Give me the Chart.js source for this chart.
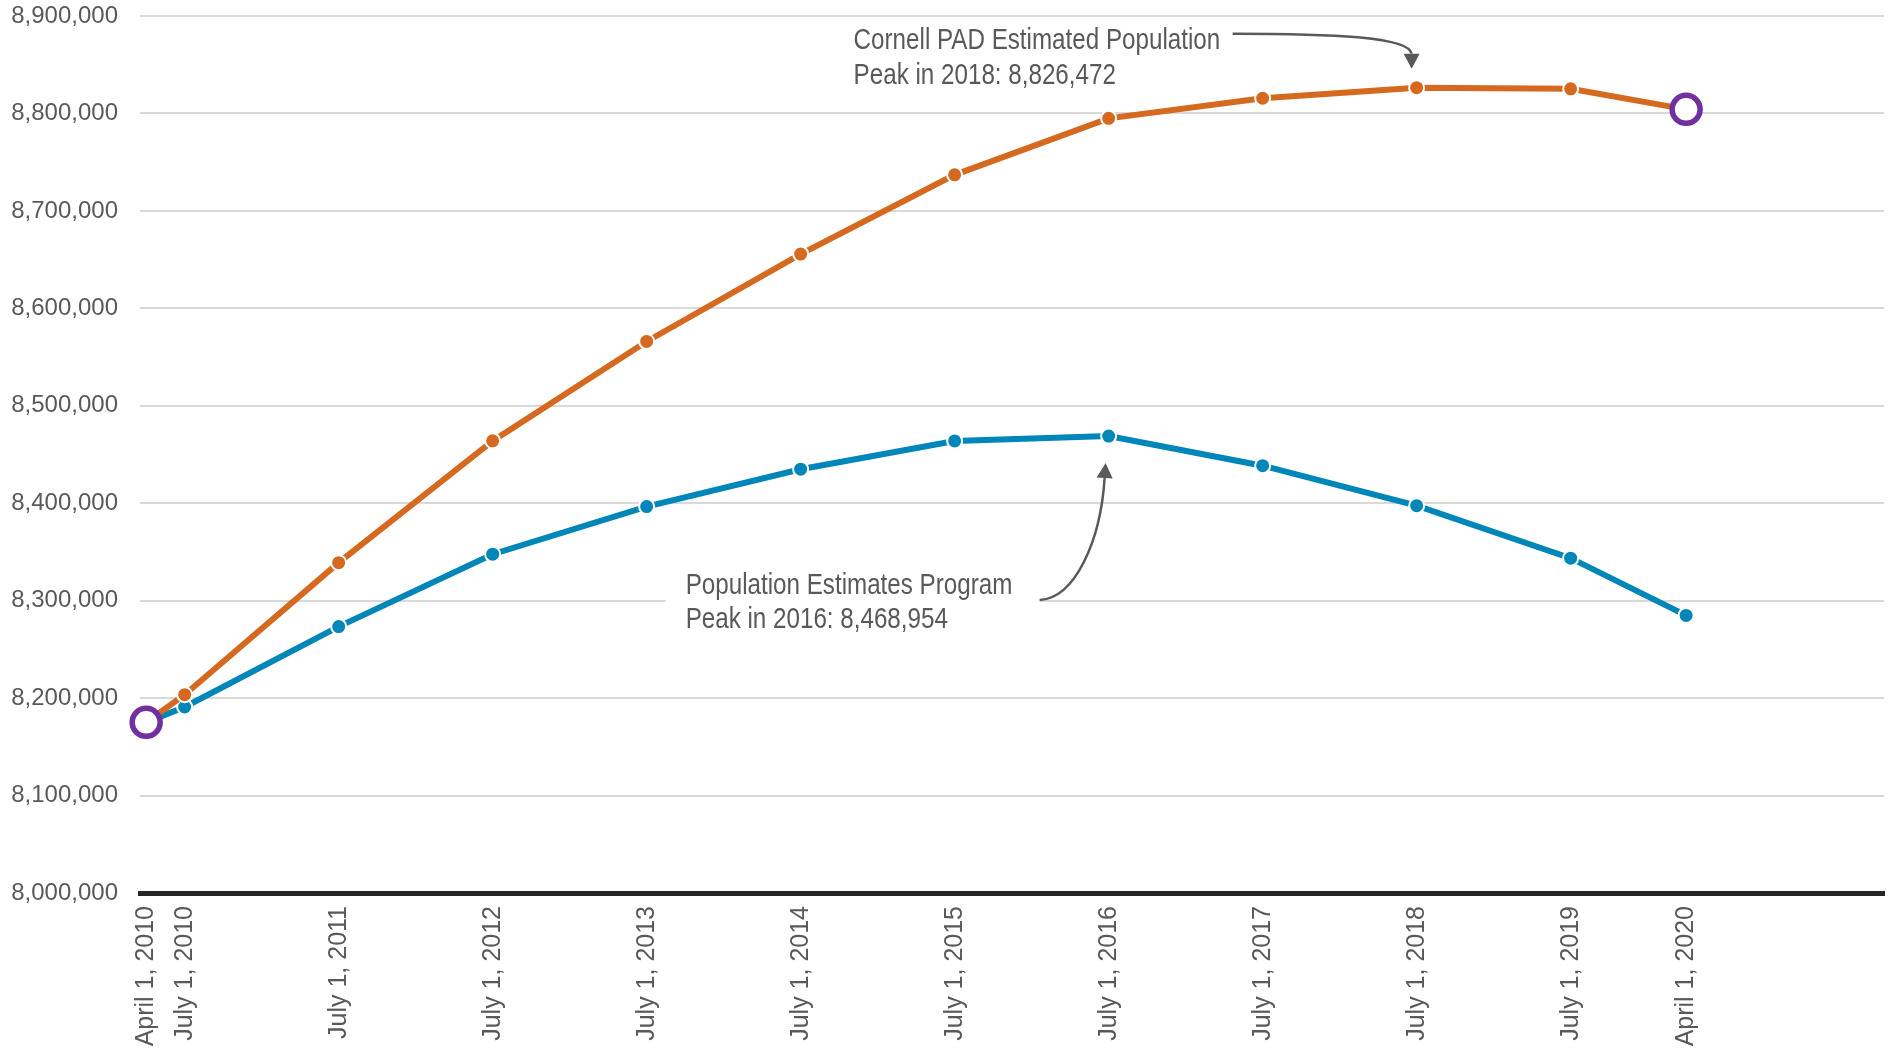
<!DOCTYPE html>
<html>
<head>
<meta charset="utf-8">
<title>NYC population: Cornell PAD vs Population Estimates Program</title>
<script src="https://cdn.jsdelivr.net/npm/chart.js@4.4.1/dist/chart.umd.min.js"></script>
<style>
  html, body { margin: 0; padding: 0; background: #fff; overflow: hidden; }
  #wrap { width: 1888px; height: 1048px; }
  canvas { display: block; }
</style>
</head>
<body>
<div id="wrap"><canvas id="chart" width="1888" height="1048"></canvas></div>
<script>
// x positions as decimal years (April 1 = .25, July 1 = .5)
const dates = [2010.25, 2010.5, 2011.5, 2012.5, 2013.5, 2014.5, 2015.5, 2016.5, 2017.5, 2018.5, 2019.5, 2020.25];
const dateLabels = [
  'April 1, 2010', 'July 1, 2010', 'July 1, 2011', 'July 1, 2012', 'July 1, 2013', 'July 1, 2014',
  'July 1, 2015', 'July 1, 2016', 'July 1, 2017', 'July 1, 2018', 'July 1, 2019', 'April 1, 2020'
];

// series values
const cornellPad = [8175133, 8203500, 8339000, 8464000, 8566000, 8655700, 8737000, 8795000, 8815600, 8826472, 8825300, 8804190];
const popEstimates = [8175133, 8190900, 8273400, 8347700, 8396600, 8434900, 8463900, 8468954, 8438500, 8397500, 8343600, 8284900];

// decennial census counts (purple rings)
const censusDates = [2010.25, 2020.25];
const censusCounts = [8175133, 8804190];

const yTicks = [8000000, 8100000, 8200000, 8300000, 8400000, 8500000, 8600000, 8700000, 8800000, 8900000];

const ORANGE = '#d4691f';
const BLUE = '#0086b8';
const PURPLE = '#7030a0';
const GREY_TEXT = '#595959';

const toPoints = (xs, ys) => xs.map((x, i) => ({ x: x, y: ys[i] }));

// condensed text, like the narrow font used in the original callouts
function narrowText(ctx, str, x, y) {
  ctx.save();
  ctx.translate(x, y);
  ctx.scale(0.82, 1);
  ctx.fillText(str, 0, 0);
  ctx.restore();
}

function arrowHead(ctx, fromX, fromY, toX, toY) {
  const ang = Math.atan2(toY - fromY, toX - fromX);
  const len = 15, half = 8;
  const tipX = toX + Math.cos(ang) * len;
  const tipY = toY + Math.sin(ang) * len;
  ctx.beginPath();
  ctx.moveTo(tipX, tipY);
  ctx.lineTo(toX + Math.cos(ang + Math.PI / 2) * half, toY + Math.sin(ang + Math.PI / 2) * half);
  ctx.lineTo(toX + Math.cos(ang - Math.PI / 2) * half, toY + Math.sin(ang - Math.PI / 2) * half);
  ctx.closePath();
  ctx.fill();
}

function peakPixel(chart, values) {
  const i = values.indexOf(Math.max(...values));
  return {
    x: chart.scales.x.getPixelForValue(dates[i]),
    y: chart.scales.y.getPixelForValue(values[i])
  };
}

// callouts for the two peaks
const peakNotes = {
  id: 'peakNotes',
  beforeDatasetsDraw(chart) {
    // white box behind the lower callout hides the gridline
    const ctx = chart.ctx;
    const p2 = peakPixel(chart, popEstimates);
    ctx.save();
    ctx.fillStyle = '#fff';
    ctx.fillRect(p2.x - 443, p2.y + 128, 374, 76);
    ctx.restore();
  },
  afterDatasetsDraw(chart) {
    const ctx = chart.ctx;
    const p1 = peakPixel(chart, cornellPad);
    const p2 = peakPixel(chart, popEstimates);

    ctx.save();
    ctx.fillStyle = GREY_TEXT;
    ctx.strokeStyle = GREY_TEXT;
    ctx.lineWidth = 2.5;
    ctx.font = '29.5px "Liberation Sans", Arial, sans-serif';
    ctx.textBaseline = 'alphabetic';
    ctx.textAlign = 'left';

    // Cornell PAD peak
    narrowText(ctx, 'Cornell PAD Estimated Population', p1.x - 563, p1.y - 39);
    narrowText(ctx, 'Peak in 2018: 8,826,472', p1.x - 563, p1.y - 4);
    ctx.beginPath();
    ctx.moveTo(p1.x - 184, p1.y - 54);
    ctx.bezierCurveTo(p1.x - 86, p1.y - 54, p1.x - 8, p1.y - 51, p1.x - 5, p1.y - 34);
    ctx.stroke();
    arrowHead(ctx, p1.x - 5, p1.y - 44, p1.x - 5, p1.y - 34);

    // Population Estimates Program peak
    narrowText(ctx, 'Population Estimates Program', p2.x - 423, p2.y + 158);
    narrowText(ctx, 'Peak in 2016: 8,468,954', p2.x - 423, p2.y + 192);
    ctx.beginPath();
    ctx.moveTo(p2.x - 69, p2.y + 164);
    ctx.bezierCurveTo(p2.x - 33, p2.y + 162, p2.x - 8, p2.y + 104, p2.x - 4, p2.y + 42);
    ctx.stroke();
    arrowHead(ctx, p2.x - 8, p2.y + 104, p2.x - 4, p2.y + 42);
    ctx.restore();
  }
};

const ctx = document.getElementById('chart').getContext('2d');

new Chart(ctx, {
  type: 'line',
  data: {
    datasets: [
      {
        label: 'Census count',
        data: toPoints(censusDates, censusCounts),
        showLine: false,
        clip: false,
        pointRadius: 14,
        pointBorderWidth: 5.5,
        pointBorderColor: PURPLE,
        pointBackgroundColor: '#fff',
        order: 0
      },
      {
        label: 'Cornell PAD Estimated Population',
        data: toPoints(dates, cornellPad),
        clip: false,
        borderColor: ORANGE,
        borderWidth: 6,
        pointRadius: 7.5,
        pointBorderWidth: 2,
        pointBorderColor: '#fff',
        pointBackgroundColor: ORANGE,
        tension: 0,
        order: 1
      },
      {
        label: 'Population Estimates Program',
        data: toPoints(dates, popEstimates),
        clip: false,
        borderColor: BLUE,
        borderWidth: 6,
        pointRadius: 7.5,
        pointBorderWidth: 2,
        pointBorderColor: '#fff',
        pointBackgroundColor: BLUE,
        tension: 0,
        order: 2
      }
    ]
  },
  options: {
    responsive: false,
    animation: false,
    devicePixelRatio: 1,
    // autoPadding would reserve room for the big census rings at the edges
    layout: { autoPadding: false, padding: { top: 16, right: 4, left: 0, bottom: 0 } },
    plugins: {
      legend: { display: false },
      tooltip: { enabled: false }
    },
    scales: {
      x: {
        type: 'linear',
        min: 2010.21,
        max: 2021.535,
        grid: { display: false, drawTicks: false },
        border: { display: true, color: '#262626', width: 5 },
        afterBuildTicks: (scale) => {
          scale.ticks = dates.map((v) => ({ value: v }));
        },
        afterFit: (scale) => {
          scale.height = 155;
          scale.paddingLeft = 0;
          scale.paddingRight = 0;
        },
        ticks: {
          autoSkip: false,
          maxRotation: 90,
          minRotation: 90,
          padding: 13,
          color: GREY_TEXT,
          font: { family: '"Liberation Sans", Arial, sans-serif', size: 25 },
          callback: (value) => {
            const i = dates.indexOf(value);
            return i >= 0 ? dateLabels[i] : '';
          }
        }
      },
      y: {
        min: 8000000,
        max: 8900000,
        grid: { color: '#d9d9d9', lineWidth: 2, drawTicks: false },
        border: { display: false },
        afterBuildTicks: (scale) => {
          scale.ticks = yTicks.map((v) => ({ value: v }));
        },
        afterFit: (scale) => {
          scale.width = 140;
          scale.paddingTop = 0;
          scale.paddingBottom = 0;
        },
        ticks: {
          padding: 22,
          color: GREY_TEXT,
          font: { family: '"Liberation Sans", Arial, sans-serif', size: 24 },
          callback: (value) => value.toLocaleString('en-US')
        }
      }
    }
  },
  plugins: [peakNotes]
});
</script>
</body>
</html>
